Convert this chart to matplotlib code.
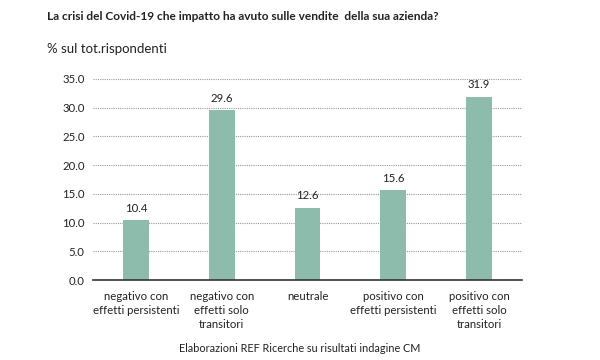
import matplotlib
matplotlib.use("Agg")
import matplotlib.pyplot as plt

categories = ["negativo con\neffetti persistenti", "negativo con\neffetti solo\ntransitori",
              "neutrale", "positivo con\neffetti persistenti", "positivo con\neffetti solo\ntransitori"]
values = [10.4, 29.6, 12.6, 15.6, 31.9]
yticks = [0, 5, 10, 15, 20, 25, 30, 35]

plt.rcParams['font.family'] = ['Lato', 'DejaVu Sans']

fig = plt.figure(figsize=(6, 3.6), dpi=100)
ax = fig.add_axes([0.155, 0.222, 0.715, 0.559])

x = range(len(categories))
bars = ax.bar(x, values, width=0.3, color='#8dbcac', zorder=3)
for xi, v in zip(x, values):
    ax.text(xi, v + 1.1, f"{v:.1f}", ha='center', va='bottom', fontsize=8.2, color='#222222')

ax.set_xlim(-0.5, len(categories) - 0.5)
ax.set_ylim(0, 35)
ax.set_yticks(yticks)
ax.set_yticklabels([f"{t:.1f}" for t in yticks], fontsize=8.2, color='#222222')
ax.set_xticks(list(x))
ax.set_xticklabels(categories, fontsize=8.2, color='#222222', linespacing=1.3)
ax.tick_params(axis='both', length=0)
ax.tick_params(axis='y', pad=6)
ax.tick_params(axis='x', pad=8)

ax.grid(axis='y', linestyle=(0, (1, 1)), color='#9a9a9a', linewidth=0.8, zorder=0)
for s in ['top', 'right', 'left']:
    ax.spines[s].set_visible(False)
ax.spines['bottom'].set_color('#333333')
ax.spines['bottom'].set_linewidth(1.2)
ax.spines['bottom'].set_zorder(4)

fig.text(0.078, 0.955, "La crisi del Covid-19 che impatto ha avuto sulle vendite  della sua azienda?",
         fontsize=8.6, fontweight='bold', color='#222222', va='center')
fig.text(0.078, 0.865, "% sul tot.rispondenti", fontsize=9.5, color='#222222', va='center')
fig.text(0.5, 0.033, "Elaborazioni REF Ricerche su risultati indagine CM", fontsize=7.8,
         color='#222222', ha='center', va='center')

fig.savefig("out.png", dpi=100, facecolor='white')
